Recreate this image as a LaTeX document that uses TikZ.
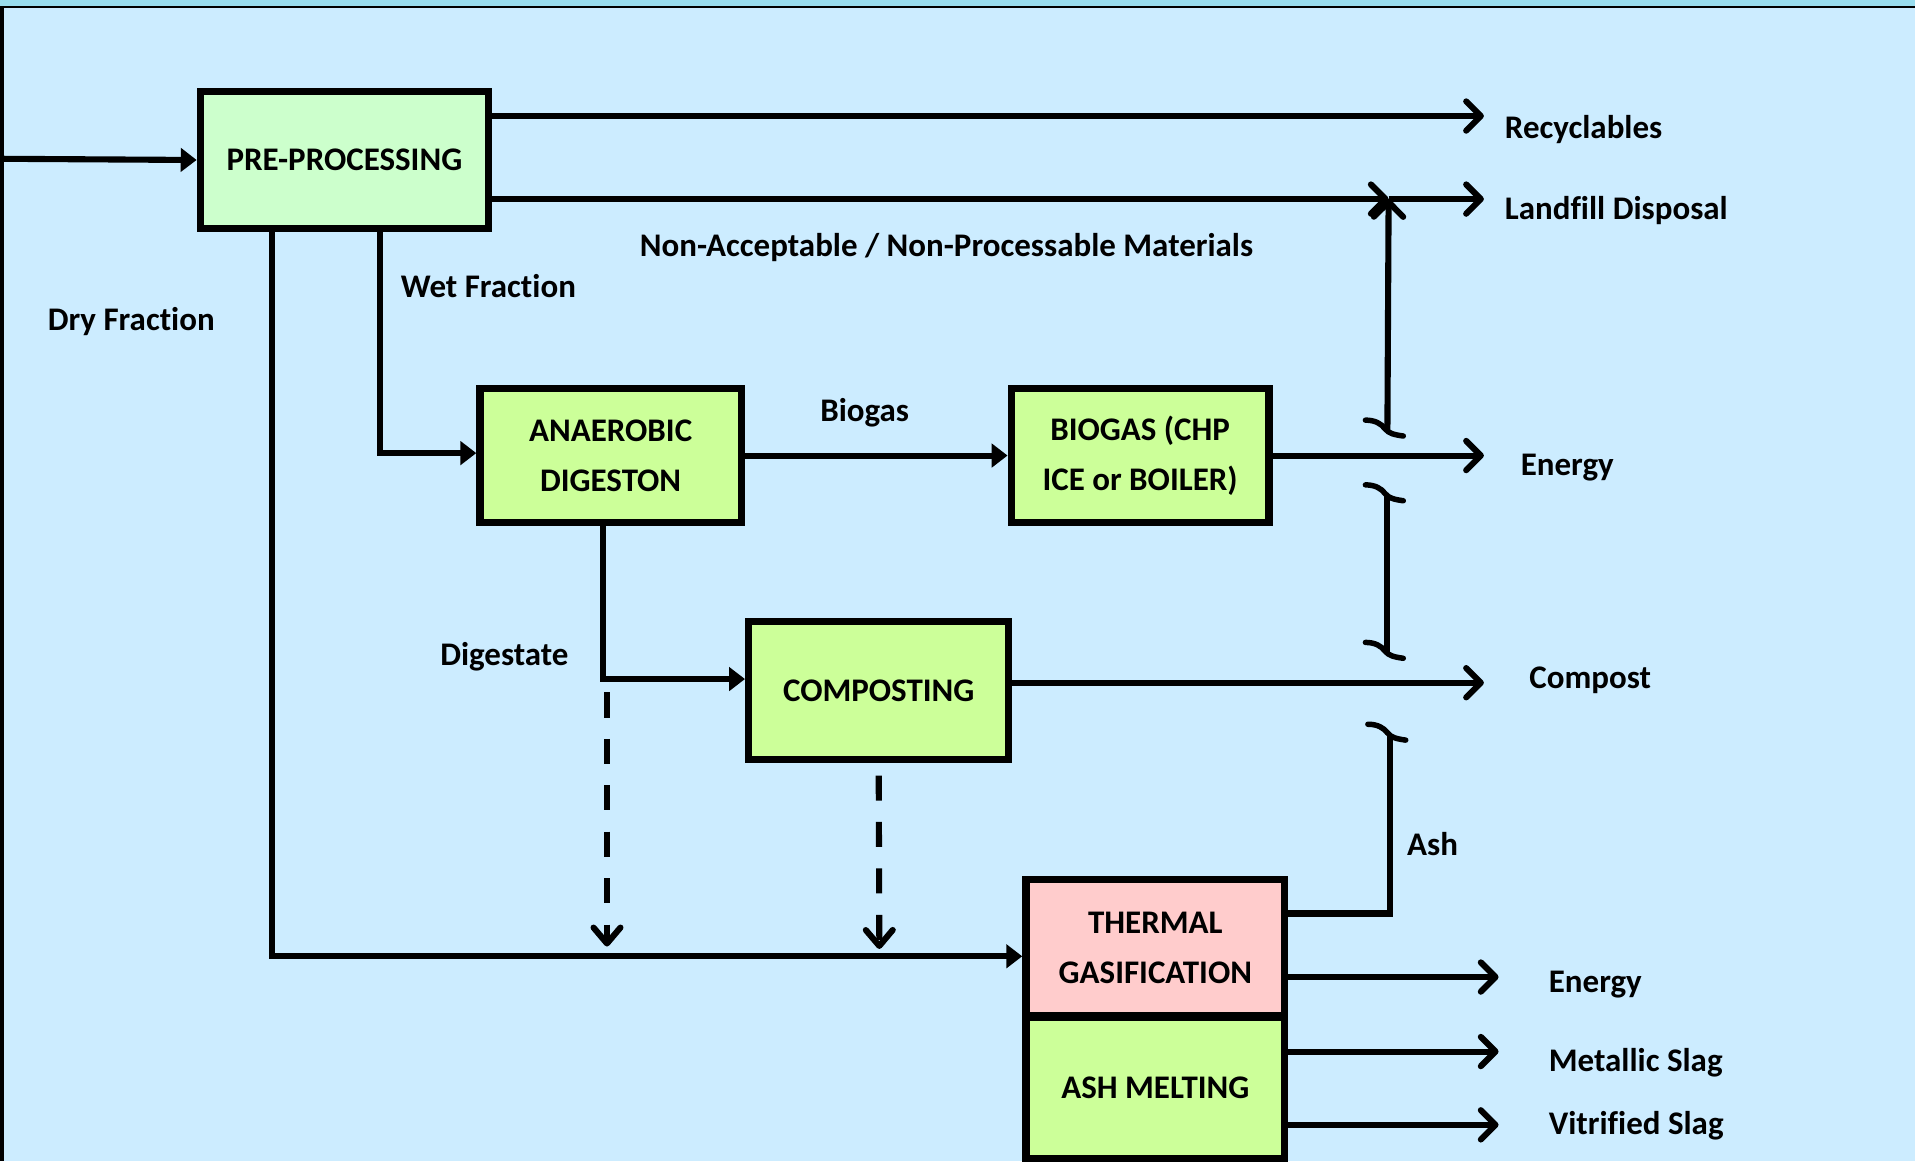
\documentclass[tikz,border=0pt]{standalone}
\usepackage{fontspec}
\setmainfont{Carlito}[Ligatures=NoCommon]
\usetikzlibrary{arrows.meta}
\definecolor{bgcol}{HTML}{CCECFF}
\definecolor{bandcol}{HTML}{99DDEE}
\definecolor{pregreen}{HTML}{CCFFCC}
\definecolor{boxgreen}{HTML}{CCFF99}
\definecolor{boxpink}{HTML}{FFCCCC}
\begin{document}
\begin{tikzpicture}[x=1pt,y=-1pt,
  every node/.style={font=\fontsize{27}{41}\selectfont\bfseries},
  box/.style={draw=black,line width=6pt,align=center,inner sep=0pt},
  lbl/.style={inner sep=0pt},
  conn/.style={line width=5pt},
  farrow/.style={conn,-{Triangle[length=13pt,width=19pt]}},
  oarrow/.style={conn,-{Straight Barb[round,length=12pt,width=24pt]}},
  darrow/.style={conn,dash pattern=on 20.5pt off 17.5pt,-{Straight Barb[round,length=13pt,width=22pt]}},
  jhook/.pic={\draw[line width=4.5pt,line cap=round] (-18,-8) .. controls (-10,-8) and (-5,-5) .. (-2,-1) .. controls (1,3) and (6,4) .. (13,5);}
]
\useasboundingbox (0,0) rectangle (1568,951);
\fill[bgcol] (0,0) rectangle (1568,951);
\fill[bandcol] (0,0) rectangle (1568,5.5);
\draw[line width=1.5pt] (0,6) -- (1568,6);
\draw[line width=3pt] (1.5,6) -- (1.5,951);

% boxes
\node[box,fill=pregreen,minimum width=236pt,minimum height=112pt] (pre) at (282,131) {PRE-PROCESSING};
\node[box,fill=boxgreen,minimum width=214pt,minimum height=110pt] (ad) at (500,373) {ANAEROBIC\\DIGESTON};
\node[box,fill=boxgreen,minimum width=211pt,minimum height=110pt] (biogas) at (933.5,373) {BIOGAS (CHP\\ICE or BOILER)};
\node[box,fill=boxgreen,minimum width=213pt,minimum height=113pt] (comp) at (719.5,565.5) {COMPOSTING};
\node[box,fill=boxpink,minimum width=212pt,minimum height=112pt] (thermal) at (946,776) {THERMAL\\GASIFICATION};
\node[box,fill=boxgreen,minimum width=212pt,minimum height=116pt] (ash) at (946,891) {ASH MELTING};

% coordinates
\coordinate (in) at (0,130);
\coordinate (recE) at (1215,95);
\coordinate (lfj) at (1137,163);
\coordinate (lfE) at (1215,163);
\coordinate (enE) at (1215,373);
\coordinate (coE) at (1215,559);
\coordinate (en2E) at (1227,800);
\coordinate (msE) at (1227,861);
\coordinate (vsE) at (1227,921);
\coordinate (d1s) at (497,567);
\coordinate (d1e) at (497,775);
\coordinate (d2e) at (720,777);
\coordinate (ashc) at (1138,748);

% labels
\node[lbl,anchor=west] (lrec) at (1232,106) {Recyclables};
\node[lbl,anchor=west] (llf) at (1232,172) {Landfill Disposal};
\node[lbl] (lnon) at (775,203) {Non-Acceptable / Non-Processable Materials};
\node[lbl,anchor=west] (ldry) at (39,263) {Dry Fraction};
\node[lbl,anchor=west] (lwet) at (328,234) {Wet Fraction};
\node[lbl] (lbio) at (708,338) {Biogas};
\node[lbl,anchor=west] (len) at (1245,383) {Energy};
\node[lbl] (ldig) at (413,538) {Digestate};
\node[lbl,anchor=west] (lcomp) at (1252,557) {Compost};
\node[lbl,anchor=west] (lash) at (1152,691) {Ash};
\node[lbl,anchor=west] (len2) at (1268,806) {Energy};
\node[lbl,anchor=west] (lms) at (1268,870) {Metallic Slag};
\node[lbl,anchor=west] (lvs) at (1268,922) {Vitrified Slag};

% connectors
\draw[farrow] (in) -- (pre.west);
\draw[oarrow] ([yshift=36pt]pre.east) -- (recE);
\draw[oarrow] ([yshift=-32pt]pre.east) -- (lfj);
\draw[oarrow] (lfj) -- (lfE);
\draw[farrow] ([xshift=29pt]pre.south) |- ([yshift=2pt]ad.west);
\draw[farrow] ([xshift=-59pt]pre.south) |- ([yshift=-7pt]thermal.west);
\draw[farrow] (ad.east) -- (biogas.west);
\draw[farrow] ([xshift=-6pt]ad.south) |- ([yshift=9.5pt]comp.west);
\draw[darrow] (d1s) -- (d1e);
\draw[darrow] ([yshift=-10pt]comp.south) -- (d2e);
\draw[oarrow] (biogas.east) -- (enE);
\draw[oarrow] ([yshift=6.5pt]comp.east) -- (coE);
\draw[oarrow] ([yshift=-24pt]thermal.east) -- (en2E);
\draw[oarrow] ([yshift=30pt]ash.east) -- (msE);
\draw[oarrow] ([yshift=-30pt]ash.east) -- (vsE);

% ash line with jumps
\draw[conn] ([yshift=28pt]thermal.east) -- (ashc) -- (1138,601);
\pic at (1138,601) {jhook};
\draw[conn] (1136,534) -- (1136,405);
\pic at (1136,534) {jhook};
\pic at (1136,405) {jhook};
\draw[oarrow] (1136,352) -- (lfj);
\pic at (1136,352) {jhook};
\end{tikzpicture}
\end{document}
